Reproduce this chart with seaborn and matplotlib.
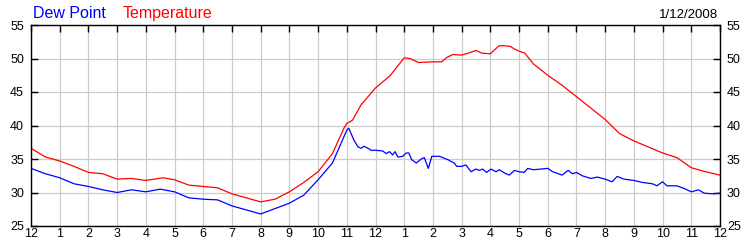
import matplotlib
matplotlib.use("Agg")
import matplotlib.pyplot as plt
import seaborn as sns

# ---- data (hours after midnight) ----
temp_hours = [0, 0.5, 1, 1.5, 2, 2.5, 3, 3.5, 4, 4.6, 5, 5.5, 6, 6.5, 7, 7.5, 8, 8.5,
              9, 9.5, 10, 10.5, 10.9, 11.0, 11.2, 11.5, 12, 12.5, 13, 13.2, 13.5, 14,
              14.3, 14.5, 14.7, 15, 15.3, 15.5, 15.7, 16, 16.3, 16.5, 16.7, 16.85, 17,
              17.2, 17.5, 18, 18.5, 19, 19.5, 20, 20.5, 21, 21.5, 22, 22.5, 23, 23.5, 24]
temp_vals = [36.6, 35.3, 34.7, 33.9, 33.0, 32.8, 32.0, 32.1, 31.8, 32.2, 31.9, 31.1, 30.9,
             30.7, 29.8, 29.2, 28.6, 29.0, 30.1, 31.5, 33.1, 35.8, 39.6, 40.3, 40.8, 43.1,
             45.6, 47.4, 50.1, 50.0, 49.4, 49.5, 49.5, 50.2, 50.6, 50.5, 50.9, 51.2, 50.8,
             50.7, 51.9, 51.9, 51.8, 51.4, 51.1, 50.8, 49.2, 47.5, 46.0, 44.3, 42.6, 40.9,
             38.8, 37.7, 36.8, 35.9, 35.2, 33.7, 33.1, 32.6]

dew_hours = [0, 0.5, 1, 1.5, 2, 2.5, 3, 3.5, 4, 4.5, 5, 5.5, 6, 6.5, 7, 7.5, 8, 8.5, 9,
             9.5, 10, 10.5, 11.0, 11.07, 11.25, 11.39, 11.5, 11.6, 11.74, 11.85, 12.0,
             12.25, 12.37, 12.49, 12.6, 12.68, 12.78, 12.95, 13.07, 13.16, 13.26, 13.42,
             13.59, 13.7, 13.84, 13.96, 14.23, 14.52, 14.74, 14.83, 14.99, 15.15, 15.33,
             15.5, 15.62, 15.73, 15.87, 16.02, 16.2, 16.31, 16.5, 16.66, 16.84, 17.0,
             17.18, 17.3, 17.5, 17.76, 18.0, 18.17, 18.5, 18.71, 18.86, 19.0, 19.2, 19.5,
             19.73, 20.0, 20.24, 20.42, 20.65, 21.0, 21.3, 21.65, 21.8, 22.0, 22.15, 22.5,
             22.75, 23.0, 23.25, 23.45, 23.74, 24]
dew_vals = [33.6, 32.8, 32.2, 31.3, 30.9, 30.4, 30.0, 30.4, 30.1, 30.5, 30.1, 29.2, 29.0,
            28.9, 28.0, 27.4, 26.8, 27.6, 28.4, 29.6, 31.9, 34.4, 39.3, 39.6, 37.8, 36.8,
            36.6, 36.9, 36.6, 36.3, 36.3, 36.2, 35.8, 36.1, 35.6, 36.1, 35.3, 35.4, 35.9,
            35.9, 34.9, 34.4, 35.0, 35.2, 33.6, 35.4, 35.4, 34.9, 34.4, 33.9, 33.9, 34.1,
            33.1, 33.5, 33.3, 33.5, 33.0, 33.5, 33.1, 33.4, 32.9, 32.6, 33.3, 33.1, 33.0,
            33.6, 33.4, 33.5, 33.6, 33.1, 32.6, 33.3, 32.8, 33.0, 32.5, 32.1, 32.3, 32.0,
            31.6, 32.4, 32.0, 31.8, 31.5, 31.3, 31.0, 31.6, 31.0, 31.0, 30.6, 30.1, 30.4,
            29.9, 29.8, 29.9]

hour_ticks = list(range(0, 25))
hour_labels = ["12", "1", "2", "3", "4", "5", "6", "7", "8", "9", "10", "11",
               "12", "1", "2", "3", "4", "5", "6", "7", "8", "9", "10", "11", "12"]
y_ticks = [25, 30, 35, 40, 45, 50, 55]

# ---- figure ----
sns.set_theme(style="white")
plt.rcParams['font.family'] = ['Liberation Sans', 'DejaVu Sans']

fig = plt.figure(figsize=(7.5, 2.5), dpi=100)
ax = fig.add_axes([31 / 750, 24 / 250, 689 / 750, 201 / 250])

sns.lineplot(x=dew_hours, y=dew_vals, color="#0000ff", linewidth=0.9,
             estimator=None, ax=ax)
sns.lineplot(x=temp_hours, y=temp_vals, color="#ff0000", linewidth=0.9,
             estimator=None, ax=ax)

ax.set_xlim(0, 24)
ax.set_ylim(25, 55)
ax.set_xticks(hour_ticks)
ax.set_xticklabels(hour_labels)
ax.set_yticks(y_ticks)
ax.set_yticklabels([str(v) for v in y_ticks])

ax.grid(True, color="#cccccc", linewidth=0.9)
ax.set_axisbelow(True)
for s in ax.spines.values():
    s.set_visible(True)
    s.set_color("black")
    s.set_linewidth(1.0)

ax.tick_params(axis="x", which="major", direction="in", bottom=False, top=True,
               labelbottom=True, labeltop=False, length=5, width=1, color="black",
               labelsize=9, pad=1.5, labelcolor="black")
ax.tick_params(axis="y", which="major", direction="in", left=True, right=True,
               labelleft=True, labelright=True, length=5, width=1, color="black",
               labelsize=9, pad=5, labelcolor="black")

fig.text(33 / 750, 1 - 18 / 250, "Dew Point", color="#0000ff", fontsize=11.5,
         ha="left", va="baseline")
fig.text(123 / 750, 1 - 18 / 250, "Temperature", color="#ff0000", fontsize=11.5,
         ha="left", va="baseline")
fig.text(718 / 750, 1 - 18 / 250, "1/12/2008", color="black", fontsize=9.5,
         ha="right", va="baseline")

fig.savefig("out.png", dpi=100, facecolor="white")
